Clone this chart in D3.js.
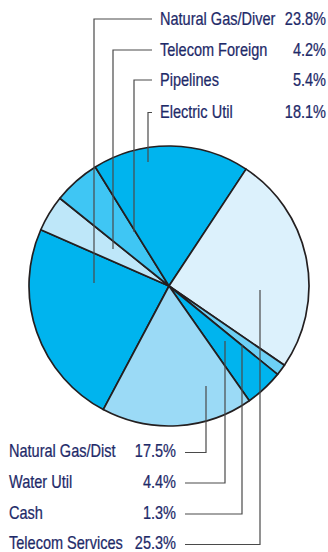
<!DOCTYPE html>
<html>
<head>
<meta charset="utf-8">
<script src="https://cdn.jsdelivr.net/npm/d3@7"></script>
<style>
  html, body { margin: 0; padding: 0; background: #fff; }
  svg { display: block; }
  text { font-family: "Liberation Sans", Arial, Helvetica, sans-serif; fill: #1e2a69; stroke: #1e2a69; stroke-width: 0.25; }
</style>
</head>
<body>
<svg id="chart" width="328" height="552"></svg>
<script>
// Sector allocation, listed clockwise around the pie
const categories = ["Natural Gas/Diver", "Telecom Foreign", "Pipelines", "Electric Util",
                    "Telecom Services", "Cash", "Water Util", "Natural Gas/Dist"];
const values = [23.8, 4.2, 5.4, 18.1, 25.3, 1.3, 4.4, 17.5];
const valueLabels = ["23.8%", "4.2%", "5.4%", "18.1%", "25.3%", "1.3%", "4.4%", "17.5%"];
const sliceColors = ["#00b4ee", "#bee7f9", "#3fc6f4", "#00b4ee",
                     "#dcf1fc", "#6dd0f5", "#00b4ee", "#9bdaf6"];

// Legend groups (indices into categories)
const topLegend = [0, 1, 2, 3];
const bottomLegend = [7, 6, 5, 4];

// Leader line layout: vertical x and where it ends inside the slice
const topLeaders = [
  { rowY: 19,  vx: 94,  tipY: 283 },
  { rowY: 50,  vx: 113, tipY: 249 },
  { rowY: 80,  vx: 134, tipY: 232 },
  { rowY: 112.5, vx: 148, tipY: 162 }
];
const bottomLeaders = [
  { rowY: 452.5, vx: 206, tipY: 386 },
  { rowY: 483,   vx: 225, tipY: 341 },
  { rowY: 514,   vx: 242, tipY: 345 },
  { rowY: 544.5, vx: 260, tipY: 290 }
];

const svg = d3.select("#chart");
const cx = 169, cy = 286, radius = 140;
const deg = Math.PI / 180;

const pie = d3.pie().sort(null).value(d => d)
  .startAngle(208 * deg).endAngle(568 * deg);
const arc = d3.arc().innerRadius(0).outerRadius(radius);

const gPie = svg.append("g").attr("transform", `translate(${cx},${cy})`);
gPie.selectAll("path")
  .data(pie(values))
  .join("path")
  .attr("d", arc)
  .attr("fill", (d, i) => sliceColors[i])
  .attr("stroke", "#231f20")
  .attr("stroke-width", 1.7)
  .attr("stroke-linejoin", "round");

// Leader lines
const lineColor = "#4a4a4a";
const gLines = svg.append("g").attr("fill", "none").attr("stroke", lineColor).attr("stroke-width", 1.2);
gLines.selectAll("path.top")
  .data(topLeaders)
  .join("path")
  .attr("class", "top")
  .attr("d", d => d3.line()([[152, d.rowY], [d.vx, d.rowY], [d.vx, d.tipY]]));
gLines.selectAll("path.bottom")
  .data(bottomLeaders)
  .join("path")
  .attr("class", "bottom")
  .attr("d", d => d3.line()([[185, d.rowY], [d.vx, d.rowY], [d.vx, d.tipY]]));

// Legend text (horizontally condensed)
const fontSize = 17.5, squeeze = 0.83;
function addText(x, y, str, anchor) {
  svg.append("text")
    .attr("transform", `translate(${x},${y}) scale(${squeeze},1)`)
    .attr("text-anchor", anchor)
    .attr("font-size", fontSize)
    .text(str);
}
topLegend.forEach((ci, k) => {
  const y = topLeaders[k].rowY + 5.5;
  addText(160, y, categories[ci], "start");
  addText(326, y, valueLabels[ci], "end");
});
bottomLegend.forEach((ci, k) => {
  const y = bottomLeaders[k].rowY + 4.5;
  addText(9, y, categories[ci], "start");
  addText(176, y, valueLabels[ci], "end");
});
</script>
</body>
</html>
